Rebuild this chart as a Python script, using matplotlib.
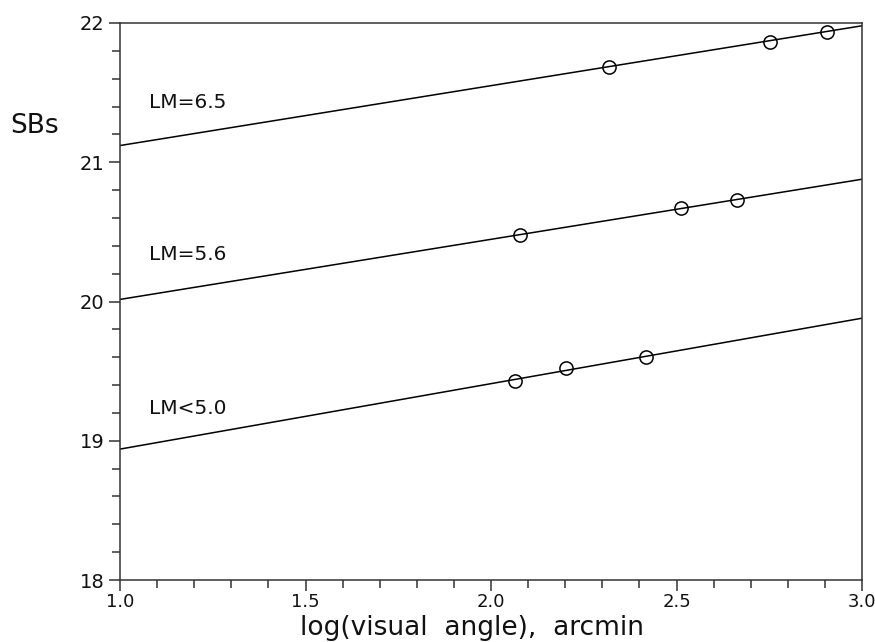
import matplotlib
matplotlib.use("Agg")
import matplotlib.pyplot as plt
from matplotlib.ticker import MultipleLocator, FormatStrFormatter

# Data
line_labels = ["LM=6.5", "LM=5.6", "LM<5.0"]
line_x = [1.0, 3.0]
line_y_65 = [21.12, 21.98]
line_y_56 = [20.015, 20.878]
line_y_50 = [18.94, 19.88]

pts_x_65 = [2.318, 2.752, 2.906]
pts_y_65 = [21.684, 21.864, 21.935]
pts_x_56 = [2.078, 2.512, 2.663]
pts_y_56 = [20.478, 20.671, 20.729]
pts_x_50 = [2.065, 2.202, 2.418]
pts_y_50 = [19.429, 19.522, 19.601]

label_x = [1.078, 1.078, 1.078]
label_y = [21.43, 20.334, 19.235]

fig = plt.figure(figsize=(8.75, 6.42), dpi=100)
ax = fig.add_axes([120/875, 1-580/642, (862-120)/875, (580-23)/642])

col = "black"
for ly in [line_y_65, line_y_56, line_y_50]:
    ax.plot(line_x, ly, color=col, lw=1.1, solid_capstyle="butt")
for px, py in [(pts_x_65, pts_y_65), (pts_x_56, pts_y_56), (pts_x_50, pts_y_50)]:
    ax.plot(px, py, linestyle="none", marker="o", markersize=9.5,
            markerfacecolor="none", markeredgecolor=col, markeredgewidth=1.1)

for t, x, y in zip(line_labels, label_x, label_y):
    ax.text(x, y, t, fontsize=14.5, ha="left", va="center", color="#111111")

ax.set_xlim(1.0, 3.0)
ax.set_ylim(18, 22)
ax.xaxis.set_major_locator(MultipleLocator(0.5))
ax.xaxis.set_minor_locator(MultipleLocator(0.1))
ax.xaxis.set_major_formatter(FormatStrFormatter("%.1f"))
ax.yaxis.set_major_locator(MultipleLocator(1))
ax.yaxis.set_minor_locator(MultipleLocator(0.2))

ax.tick_params(axis="both", which="major", direction="out", length=8, width=1.1,
               color="#333333", labelcolor="#111111")
ax.tick_params(axis="y", which="major", labelsize=14, pad=3)
ax.tick_params(axis="x", which="major", labelsize=13, pad=1.5)
ax.tick_params(axis="both", which="minor", direction="out", length=5.5, width=1.1,
               color="#333333")

for s in ax.spines.values():
    s.set_linewidth(1.1)
    s.set_color("#333333")

ax.set_xlabel("log(visual  angle),  arcmin", fontsize=19, labelpad=0, color="#111111")
ax.xaxis.set_label_coords(0.474, -0.062)
fig.text(10/875, 1-126/642, "SBs", fontsize=19, ha="left", va="center", color="#111111")

fig.savefig("out.png", dpi=100)
